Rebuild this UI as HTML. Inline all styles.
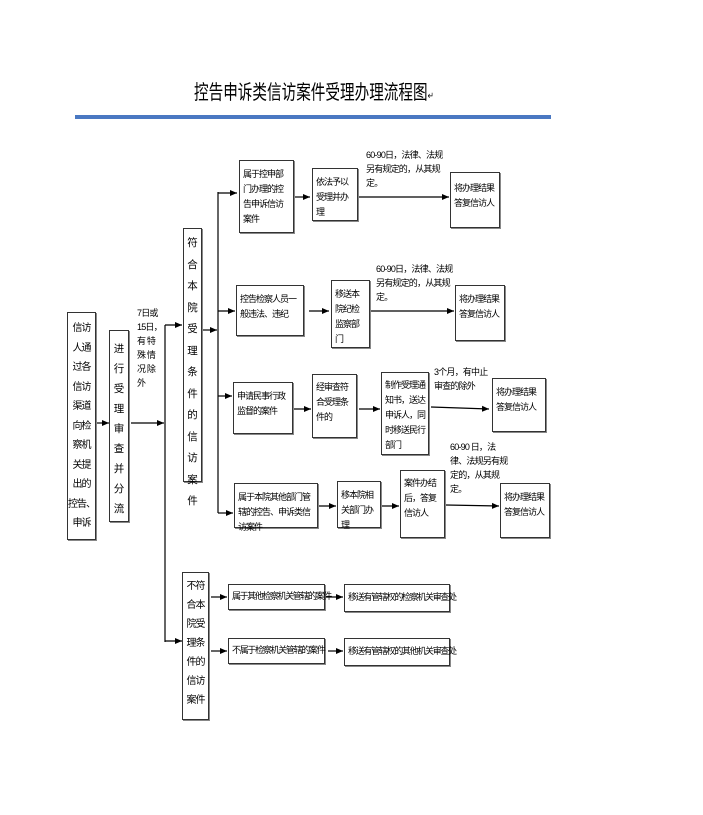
<!DOCTYPE html>
<html><head><meta charset="utf-8"><style>
body{margin:0;width:703px;height:815px;background:#fff;position:relative;overflow:hidden;font-family:"Liberation Sans","Noto Sans CJK SC",sans-serif;color:#000}
.b{position:absolute;border:1px solid #333;box-shadow:1px 1px 0 #888;box-sizing:border-box;font-size:9px;letter-spacing:-1px;line-height:15px;padding:3px 3px;background:#fff}
.v{text-align:center;line-height:19px;padding:4px 0;font-size:10.5px;letter-spacing:0}
.t{position:absolute;font-size:9px;letter-spacing:-0.8px;line-height:14px}
svg{position:absolute;left:0;top:0}
</style></head><body>
<div style="position:absolute;left:194px;top:76px;font-size:20px;white-space:nowrap;transform:scaleX(0.73);transform-origin:0 0">控告申诉类信访案件受理办理流程图<span style="font-size:10px">↵</span></div>
<div style="position:absolute;left:75px;top:115px;width:476px;height:4px;background:#4a78c2"></div>
<svg width="703" height="815" viewBox="0 0 703 815">
<defs><marker id="a" markerWidth="8" markerHeight="8" refX="7" refY="4" orient="auto" markerUnits="userSpaceOnUse"><path d="M0,1 L7,4 L0,7z" fill="#000"/></marker></defs>
<g stroke="#000" stroke-width="1.2" fill="none">
<line x1="96" y1="423" x2="109" y2="423" marker-end="url(#a)"/>
<line x1="131" y1="423" x2="164" y2="423" marker-end="url(#a)"/>
<line x1="165" y1="325" x2="165" y2="642"/>
<line x1="165" y1="325" x2="182" y2="325" marker-end="url(#a)"/>
<line x1="165" y1="641" x2="182" y2="641" marker-end="url(#a)"/>
<line x1="203" y1="330" x2="217" y2="330" marker-end="url(#a)"/>
<line x1="218" y1="192" x2="218" y2="513"/>
<line x1="218" y1="193" x2="237" y2="193" marker-end="url(#a)"/>
<line x1="218" y1="311" x2="235" y2="311" marker-end="url(#a)"/>
<line x1="218" y1="396" x2="232" y2="396" marker-end="url(#a)"/>
<line x1="218" y1="513" x2="233" y2="513" marker-end="url(#a)"/>
<line x1="295" y1="197" x2="310" y2="197" marker-end="url(#a)"/>
<line x1="359" y1="197" x2="449" y2="197" marker-end="url(#a)"/>
<line x1="309" y1="311" x2="329" y2="311" marker-end="url(#a)"/>
<line x1="371" y1="311" x2="454" y2="311" marker-end="url(#a)"/>
<line x1="294" y1="409" x2="311" y2="409" marker-end="url(#a)"/>
<line x1="359" y1="409" x2="380" y2="409" marker-end="url(#a)"/>
<line x1="431" y1="407" x2="489" y2="409" marker-end="url(#a)"/>
<line x1="319" y1="506" x2="336" y2="506" marker-end="url(#a)"/>
<line x1="382" y1="506" x2="399" y2="506" marker-end="url(#a)"/>
<line x1="446" y1="505" x2="499" y2="506" marker-end="url(#a)"/>
<line x1="211" y1="597" x2="227" y2="597" marker-end="url(#a)"/>
<line x1="211" y1="651" x2="227" y2="651" marker-end="url(#a)"/>
<line x1="326" y1="597" x2="343" y2="597" marker-end="url(#a)"/>
<line x1="328" y1="651" x2="343" y2="651" marker-end="url(#a)"/>
</g></svg>
<div class="b v" style="left:67px;top:312px;width:29px;height:228px;line-height:19.5px;padding-top:6px;font-size:10px;letter-spacing:-1px">信访<br>人通<br>过各<br>信访<br>渠道<br>向检<br>察机<br>关提<br>出的<br>控告、<br>申诉</div>
<div class="b v" style="left:109px;top:330px;width:20px;height:192px;line-height:20px;padding-top:8px">进<br>行<br>受<br>理<br>审<br>查<br>并<br>分<br>流</div>
<div class="t" style="left:137px;top:306px;width:30px;line-height:14px">7日或<br>15日，<br>有 特<br>殊 情<br>况 除<br>外</div>
<div class="b v" style="left:183px;top:228px;width:19px;height:254px;line-height:21.5px">符<br>合<br>本<br>院<br>受<br>理<br>条<br>件<br>的<br>信<br>访<br>案<br>件</div>
<div class="b v" style="left:182px;top:572px;width:27px;height:148px;line-height:19px;font-size:10px;letter-spacing:-1px">不符<br>合本<br>院受<br>理条<br>件的<br>信访<br>案件</div>
<div class="b" style="left:239px;top:160px;width:55px;height:73px;padding-top:6px">属于控申部门办理的控告申诉信访案件</div>
<div class="b" style="left:312px;top:168px;width:46px;height:53px;padding-top:6px">依法予以受理并办理</div>
<div class="t" style="left:366px;top:148px;width:80px">60-90日，法律、法规另有规定的，从其规定。</div>
<div class="b" style="left:450px;top:172px;width:50px;height:56px;padding-top:8px">将办理结果答复信访人</div>
<div class="b" style="left:236px;top:285px;width:68px;height:51px;padding-top:6px">控告检察人员一般违法、违纪</div>
<div class="b" style="left:331px;top:280px;width:39px;height:68px;padding-top:6px">移送本院纪检监察部门</div>
<div class="t" style="left:376px;top:262px;width:80px">60-90日，法律、法规另有规定的，从其规定。</div>
<div class="b" style="left:455px;top:285px;width:50px;height:56px;padding-top:6px">将办理结果答复信访人</div>
<div class="b" style="left:233px;top:382px;width:60px;height:52px;padding-top:6px">申请民事行政监督的案件</div>
<div class="b" style="left:312px;top:374px;width:45px;height:64px;padding-top:5px">经审查符合受理条件的</div>
<div class="b" style="left:381px;top:372px;width:48px;height:83px;padding-top:5px">制作受理通知书，送达申诉人，同时移送民行部门</div>
<div class="t" style="left:434px;top:365px;width:58px">3个月，有中止审查的除外</div>
<div class="b" style="left:492px;top:378px;width:54px;height:54px;padding-top:6px">将办理结果答复信访人</div>
<div class="t" style="left:450px;top:440px;width:58px">60-90 日，法律、法规另有规定的，从其规定。</div>
<div class="b" style="left:234px;top:483px;width:84px;height:45px;padding-top:6px">属于本院其他部门管辖的控告、申诉类信访案件</div>
<div class="b" style="left:337px;top:481px;width:44px;height:47px;padding-top:6px">移本院相关部门办理</div>
<div class="b" style="left:400px;top:470px;width:45px;height:68px;padding-top:5px">案件办结后，答复信访人</div>
<div class="b" style="left:500px;top:483px;width:50px;height:55px;padding-top:6px">将办理结果答复信访人</div>
<div class="b" style="left:228px;top:584px;width:97px;height:26px;padding:4px 3px;white-space:nowrap;letter-spacing:-1.4px">属于其他检察机关管辖的案件</div>
<div class="b" style="left:344px;top:584px;width:106px;height:28px;padding:5px 3px;white-space:nowrap;letter-spacing:-1.3px">移送有管辖权的检察机关审查处</div>
<div class="b" style="left:228px;top:638px;width:97px;height:26px;padding:4px 3px;white-space:nowrap;letter-spacing:-1.3px">不属于检察机关管辖的案件</div>
<div class="b" style="left:344px;top:638px;width:106px;height:28px;padding:5px 3px;white-space:nowrap;letter-spacing:-1.3px">移送有管辖权的其他机关审查处</div>
</body></html>
